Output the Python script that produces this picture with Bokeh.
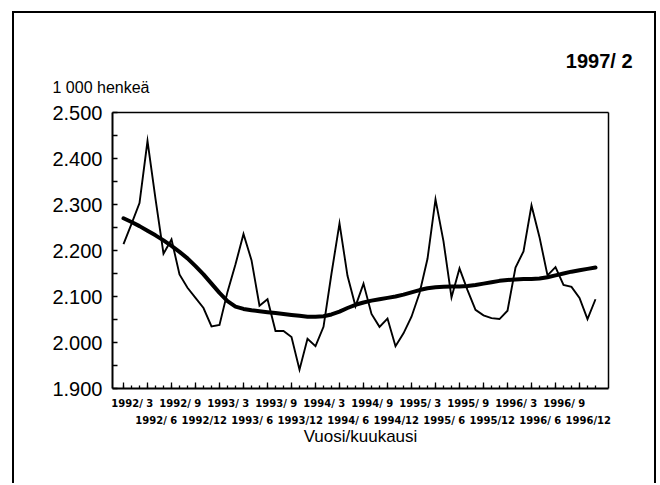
from bokeh.plotting import figure
from bokeh.models import Range1d, FixedTicker, LinearAxis, Title
from bokeh.embed import file_html
from bokeh.resources import INLINE

# Monthly series 1992/3 ... 1997/2 (1 000 persons)
employed = [2214, 2258, 2303, 2438, 2312, 2193, 2224, 2148, 2119, 2097,
            2075, 2035, 2038, 2110, 2170, 2236, 2179, 2080, 2094, 2025,
            2025, 2012, 1941, 2008, 1992, 2034, 2150, 2259, 2145, 2079,
            2128, 2062, 2034, 2052, 1992, 2020, 2056, 2107, 2182, 2311,
            2220, 2098, 2161, 2114, 2071, 2059, 2053, 2051, 2069, 2163,
            2198, 2298, 2229, 2146, 2164, 2125, 2121, 2097, 2051, 2094]
trend = [2270, 2262, 2253, 2243, 2233, 2222, 2210, 2197, 2183, 2166,
         2148, 2128, 2108, 2090, 2078, 2073, 2070, 2068, 2066, 2064,
         2062, 2060, 2058, 2056, 2056, 2057, 2061, 2067, 2075, 2082,
         2087, 2091, 2094, 2097, 2100, 2104, 2109, 2114, 2118, 2120,
         2121, 2122, 2122, 2123, 2125, 2128, 2131, 2134, 2136, 2137,
         2138, 2138, 2139, 2142, 2146, 2150, 2154, 2157, 2160, 2163]
tick_labels = ["1992/ 3", "1992/ 6", "1992/ 9", "1992/12",
               "1993/ 3", "1993/ 6", "1993/ 9", "1993/12",
               "1994/ 3", "1994/ 6", "1994/ 9", "1994/12",
               "1995/ 3", "1995/ 6", "1995/ 9", "1995/12",
               "1996/ 3", "1996/ 6", "1996/ 9", "1996/12"]
y_ticks = [1900, 2000, 2100, 2200, 2300, 2400, 2500]
y_minor = [1950, 2050, 2150, 2250, 2350, 2450]

x = list(range(len(employed)))
tick_pos = [3 * i for i in range(len(tick_labels))]
shift = 1.1
row1_pos = [tick_pos[i] + shift for i in range(0, len(tick_pos), 2)]
row1_lab = [tick_labels[i] for i in range(0, len(tick_pos), 2)]
row2_pos = [tick_pos[i] + shift for i in range(1, len(tick_pos), 2)]
row2_lab = [tick_labels[i] for i in range(1, len(tick_pos), 2)]

p = figure(width=658, height=483, output_backend="svg", toolbar_location=None,
           title=None,
           x_range=Range1d(-1.375, 60.625), y_range=Range1d(1900, 2500),
           min_border_left=112, min_border_right=50, min_border_top=112,
           min_border_bottom=95)
p.grid.visible = False
p.outline_line_color = None
p.background_fill_color = "white"
p.border_fill_color = None
p.styles = {
    "background-color": "white",
    "background-image": "linear-gradient(#000,#000), linear-gradient(#000,#000), linear-gradient(#000,#000)",
    "background-size": "2px 480px, 644px 2px, 2px 480px",
    "background-position": "12px 11px, 12px 11px, 654px 11px",
    "background-repeat": "no-repeat",
}

p.line(x, employed, line_width=1.9, color="black", line_join="miter")
p.line(x, trend, line_width=4, color="black", line_cap="round")

tick_font = "DejaVu Sans"
xa = p.xaxis[0]
xa.ticker = FixedTicker(ticks=tick_pos, minor_ticks=x)
xa.major_tick_in = 6
xa.major_tick_out = 0
xa.minor_tick_in = 3
xa.minor_tick_out = 0
xa.major_tick_line_width = 1.3
xa.minor_tick_line_width = 1.3
xa.axis_line_width = 2
xa.major_label_overrides = {t: "" for t in tick_pos}
xa.major_label_text_font_size = "1px"
xa.major_label_text_color = None
xa.major_label_standoff = 0

# frame edges on top and right
for side in ("above", "right"):
    p.add_layout(LinearAxis(ticker=FixedTicker(ticks=[], minor_ticks=[]),
                            axis_line_width=1.5, axis_line_color="black",
                            major_label_text_color=None,
                            major_label_text_font_size="1px",
                            major_tick_line_color=None,
                            minor_tick_line_color=None), side)

def label_axis(pos, labs, standoff):
    ax = LinearAxis(ticker=FixedTicker(ticks=pos, minor_ticks=[]),
                    axis_line_color=None, major_tick_line_color=None,
                    minor_tick_line_color=None, major_tick_in=0, major_tick_out=0,
                    major_label_overrides={t: l for t, l in zip(pos, labs)},
                    major_label_text_font=tick_font,
                    major_label_text_font_style="bold",
                    major_label_text_font_size="10px",
                    major_label_text_color="black",
                    major_label_standoff=standoff)
    return ax

ax2 = label_axis(row1_pos, row1_lab, 9)
ax3 = label_axis(row2_pos, row2_lab, 3)
ax3.axis_label = "Vuosi/kuukausi"
ax3.axis_label_text_font = "Liberation Sans"
ax3.axis_label_text_font_style = "normal"
ax3.axis_label_text_font_size = "17px"
ax3.axis_label_text_color = "black"
ax3.axis_label_standoff = -2
p.add_layout(ax2, "below")
p.add_layout(ax3, "below")

ya = p.yaxis[0]
ya.ticker = FixedTicker(ticks=y_ticks, minor_ticks=y_minor)
ya.major_tick_in = 5
ya.major_tick_out = 0
ya.minor_tick_in = 5
ya.minor_tick_out = 0
ya.major_tick_line_width = 1.3
ya.minor_tick_line_width = 1.3
ya.axis_line_width = 2
ya.major_label_overrides = {v: f"{v // 1000}.{v % 1000:03d}" for v in y_ticks}
ya.major_label_text_font = "Liberation Sans"
ya.major_label_text_font_size = "20px"
ya.major_label_text_color = "black"
ya.major_label_standoff = 10

p.add_layout(Title(text="1 000 henkeä", align="left", offset=-60, standoff=34,
                   text_font="Liberation Sans", text_font_style="normal",
                   text_font_size="16px", text_color="black"), "above")
p.add_layout(Title(text="1997/ 2", align="right", offset=-24, standoff=-24,
                   text_font="Liberation Sans", text_font_style="bold",
                   text_font_size="20px", text_color="black"), "above")

open("out.html", "w").write(file_html(p, INLINE))
